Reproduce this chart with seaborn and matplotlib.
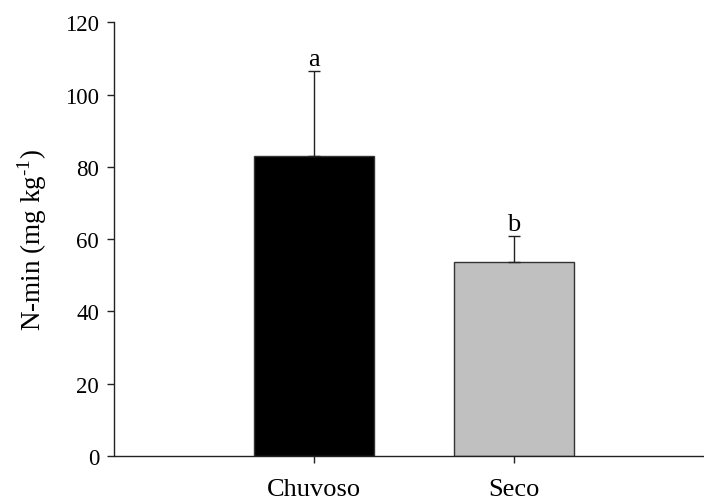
import matplotlib
matplotlib.use("Agg")
import matplotlib.pyplot as plt
import seaborn as sns
import pandas as pd

categories = ["Chuvoso", "Seco"]
means = [83.0, 53.6]
errors = [23.5, 7.2]
letters = ["a", "b"]
colors = ["#000000", "#c0c0c0"]
yticks = [0, 20, 40, 60, 80, 100, 120]

sns.set_style("ticks")
plt.rcParams["font.family"] = ["Liberation Serif", "DejaVu Serif"]
plt.rcParams["mathtext.fontset"] = "custom"
plt.rcParams["mathtext.rm"] = "Liberation Serif"
plt.rcParams["text.color"] = "black"
plt.rcParams["axes.labelcolor"] = "black"
plt.rcParams["xtick.color"] = "black"
plt.rcParams["ytick.color"] = "black"

df = pd.DataFrame({"cat": categories, "val": means})

fig = plt.figure(figsize=(7.04, 5.02), dpi=100)
ax = fig.add_axes([114.5 / 704, 45 / 502, (703 - 114.5) / 704, (457 - 23.3) / 502])

sns.barplot(data=df, x="cat", y="val", hue="cat", palette=colors, legend=False,
            width=0.6, edgecolor="#333333", linewidth=1.0, ax=ax, errorbar=None)

xs = list(range(len(categories)))
ax.errorbar(xs, means, yerr=[[0] * len(errors), errors], fmt="none",
            ecolor="#222222", elinewidth=1.0, capsize=4.3, capthick=1.0, zorder=3)
for x, m, e, l in zip(xs, means, errors, letters):
    ax.annotate(l, (x, m + e), xytext=(0, 1), textcoords="offset points",
                ha="center", va="bottom", fontsize=19)

ax.set_xlim(-0.9975, 1.945)
ax.set_ylim(0, 120)
ax.set_yticks(yticks)
ax.set_yticklabels([str(t) for t in yticks], fontsize=16.5)
ax.tick_params(axis="y", length=5, width=1.0, pad=6, color="#222222")
ax.tick_params(axis="x", length=5, width=1.0, pad=10.5, labelsize=19, color="#222222")
ax.set_xlabel("")
ax.set_ylabel("N-min (mg kg$^{\\text{-}1}$)", fontsize=19.5, labelpad=12)
for s in ["top", "right"]:
    ax.spines[s].set_visible(False)
for s in ["left", "bottom"]:
    ax.spines[s].set_linewidth(1.0)
    ax.spines[s].set_color("#222222")

fig.savefig("out.png", dpi=100)
